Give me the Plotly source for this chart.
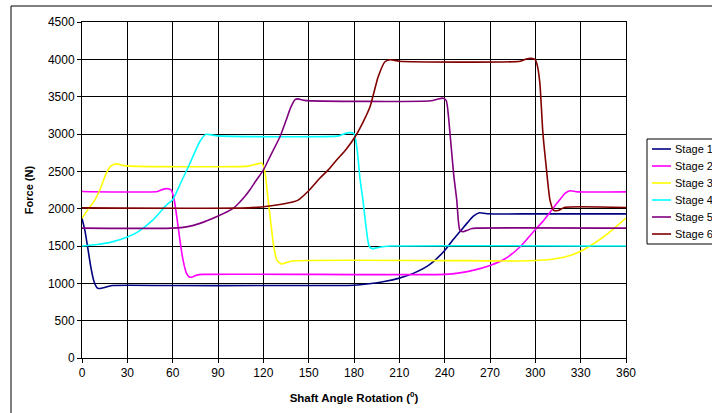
import plotly.graph_objects as go

# Force vs shaft angle for each cam stage
stage_names = ["Stage 1", "Stage 2", "Stage 3", "Stage 4", "Stage 5", "Stage 6"]
stage_colors = ["#000080", "#FF00FF", "#FFFF00", "#00FFFF", "#800080", "#800000"]

stage1_angle = [0, 2, 4, 6, 8, 10, 12, 15, 20, 60, 120, 180, 190, 200, 210, 220, 230,
                240, 245, 250, 255, 259, 263, 268, 300, 360]
stage1_force = [1870, 1700, 1450, 1200, 1020, 940, 930, 945, 970, 970, 970, 975, 995,
                1025, 1070, 1140, 1250, 1440, 1570, 1690, 1810, 1900, 1945, 1932, 1930, 1930]

stage2_angle = [0, 50, 53, 56, 59, 61, 63, 65, 67, 69, 71, 73, 76, 80, 240, 250, 260,
                270, 280, 290, 300, 305, 310, 316, 320, 323, 328, 360]
stage2_force = [2230, 2230, 2255, 2268, 2250, 2120, 1850, 1550, 1300, 1140, 1085, 1085,
                1110, 1120, 1120, 1140, 1180, 1240, 1330, 1490, 1720, 1830, 1960, 2115,
                2210, 2240, 2225, 2225]

stage3_angle = [0, 4, 8, 12, 16, 19, 23, 27, 32, 110, 116, 119, 121, 123, 125, 127, 129,
                132, 135, 139, 290, 300, 310, 320, 330, 340, 350, 360]
stage3_force = [1870, 1990, 2100, 2260, 2470, 2570, 2600, 2580, 2570, 2570, 2600, 2610,
                2500, 2150, 1800, 1480, 1310, 1260, 1275, 1300, 1300, 1305, 1320, 1355,
                1430, 1550, 1700, 1875]

stage4_angle = [0, 10, 20, 30, 37, 47, 56, 60, 65, 71.5, 78, 82, 85, 90, 170, 174, 177,
                180, 182, 184, 186, 188, 190, 192, 195, 199, 205, 360]
stage4_force = [1500, 1520, 1555, 1620, 1690, 1850, 2050, 2120, 2330, 2610, 2900, 2995,
                2990, 2975, 2975, 3005, 3018, 3005, 2800, 2400, 2100, 1750, 1500, 1465,
                1475, 1490, 1500, 1500]

stage5_angle = [0, 60, 70, 78, 89, 100, 104, 108, 111, 115, 120, 125, 131, 135, 138, 141,
                143, 147, 231, 235, 239, 241, 243.5, 246, 248, 249, 250, 252, 255, 258,
                261, 360]
stage5_force = [1740, 1740, 1760, 1803, 1892, 2004, 2080, 2170, 2250, 2370, 2517, 2720,
                2963, 3180, 3350, 3460, 3470, 3450, 3445, 3465, 3480, 3450, 3013, 2450,
                2115, 1850, 1714, 1691, 1710, 1735, 1740, 1740]

stage6_angle = [0, 110, 124, 132, 140, 143, 150, 157.5, 163, 168.5, 175, 180.7, 186,
                190.6, 196, 200.5, 204, 210, 290, 294, 297, 300, 301.5, 303, 305, 307,
                309.7, 312, 315, 319.6, 360]
stage6_force = [2010, 2010, 2035, 2060, 2093, 2115, 2240, 2410, 2520, 2651, 2800, 2963,
                3160, 3365, 3767, 3968, 3995, 3975, 3975, 4005, 4013, 3995, 3900, 3678,
                3013, 2600, 2115, 1982, 1975, 2018, 2015]

x_ticks = list(range(0, 361, 30))
y_ticks = list(range(0, 4501, 500))

angles = [stage1_angle, stage2_angle, stage3_angle, stage4_angle, stage5_angle, stage6_angle]
forces = [stage1_force, stage2_force, stage3_force, stage4_force, stage5_force, stage6_force]

FONT = "Liberation Sans, Arial"

fig = go.Figure()
for name, color, xs, ys in zip(stage_names, stage_colors, angles, forces):
    fig.add_trace(go.Scatter(
        x=xs, y=ys, name=name, mode="lines",
        line=dict(color=color, width=1.6, shape="spline", smoothing=0.6),
        showlegend=False,
    ))

W, H = 712, 413
L, R, T, B = 82, 626, 22, 358  # plot area edges in pixels


def px_x(p):
    return (p - L) / (R - L)


def px_y(p):
    return (B - p) / (B - T)


shapes = []
# outer chart frame (runs past the right and bottom edges of the page)
shapes.append(dict(type="rect", xref="paper", yref="paper",
                   x0=px_x(11), x1=px_x(760), y0=px_y(460), y1=px_y(6),
                   line=dict(color="black", width=1), fillcolor="rgba(0,0,0,0)",
                   layer="above"))
# legend box
shapes.append(dict(type="rect", xref="paper", yref="paper",
                   x0=px_x(647), x1=px_x(760), y0=px_y(244), y1=px_y(139),
                   line=dict(color="black", width=1), fillcolor="white",
                   layer="above"))

annotations = []
for i, (name, color) in enumerate(zip(stage_names, stage_colors)):
    yy = 149 + 17 * i
    shapes.append(dict(type="line", xref="paper", yref="paper",
                       x0=px_x(652), x1=px_x(671), y0=px_y(yy), y1=px_y(yy),
                       line=dict(color=color, width=1.6), layer="above"))
    annotations.append(dict(xref="paper", yref="paper", x=px_x(673), y=px_y(yy),
                            text=name, showarrow=False, xanchor="left", yanchor="middle",
                            font=dict(family=FONT, size=11, color="black")))

axis_common = dict(
    showgrid=True, gridcolor="black", gridwidth=1,
    showline=True, linecolor="black", linewidth=1, mirror=True,
    ticks="outside", ticklen=4, tickcolor="black", tickwidth=1,
    zeroline=False,
    tickfont=dict(family=FONT, size=12, color="black"),
)

fig.update_layout(
    width=W, height=H,
    margin=dict(l=L, r=W - R, t=T, b=H - B, autoexpand=False),
    paper_bgcolor="white", plot_bgcolor="white",
    showlegend=False,
    shapes=shapes, annotations=annotations,
    xaxis=dict(range=[0, 360], tickvals=x_ticks, **axis_common,
               title=dict(text="<b>Shaft Angle Rotation (<sup>0</sup>)</b>",
                          font=dict(family=FONT, size=11.5, color="black"),
                          standoff=14)),
    yaxis=dict(range=[0, 4500], tickvals=y_ticks, **axis_common,
               title=dict(text="<b>Force (N)</b>",
                          font=dict(family=FONT, size=11, color="black"),
                          standoff=12)),
)

fig.write_html("out.html")
